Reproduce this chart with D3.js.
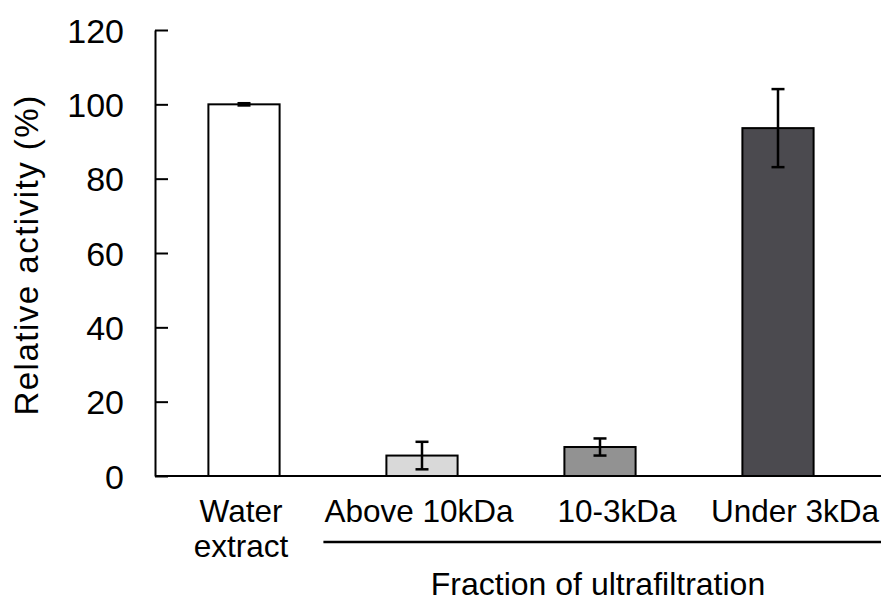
<!DOCTYPE html>
<html>
<head>
<meta charset="utf-8">
<script src="https://cdn.jsdelivr.net/npm/d3@7"></script>
<style>
  body { margin: 0; background: #fff; }
  text { font-family: "Liberation Sans", Arial, sans-serif; fill: #000; }
</style>
</head>
<body>
<script>
var categories = ['Water extract', 'Above 10kDa', '10-3kDa', 'Under 3kDa'];
var values = [100, 5.5, 7.8, 93.6];
var errors = [0.3, 3.7, 2.3, 10.5];
var barColors = ['#ffffff', '#d9d9d9', '#929292', '#4b4a4f'];
var yTicks = [0, 20, 40, 60, 80, 100, 120];
var groupTitle = 'Fraction of ultrafiltration';
var yTitle = 'Relative activity (%)';

var svgWidth = 881, svgHeight = 604;
var margin = {top: 30, right: 14, bottom: 128, left: 155};

var svg = d3.select("body").append("svg")
  .attr("width", svgWidth)
  .attr("height", svgHeight);

var x = d3.scaleBand()
  .domain(categories)
  .range([margin.left, margin.left + 712])
  .paddingInner(0.6)
  .paddingOuter(0.3);

var y = d3.scaleLinear()
  .domain([0, 120])
  .range([svgHeight - margin.bottom, margin.top]);

// bars
svg.append("g").selectAll("rect")
  .data(values)
  .enter().append("rect")
    .attr("x", function(d, i) { return x(categories[i]); })
    .attr("y", function(d) { return y(d); })
    .attr("width", x.bandwidth())
    .attr("height", function(d) { return y(0) - y(d); })
    .attr("fill", function(d, i) { return barColors[i]; })
    .attr("stroke", "#000")
    .attr("stroke-width", 2);

// error bars
var eb = svg.append("g").attr("stroke", "#000").attr("stroke-width", 2.5);
values.forEach(function(v, i) {
  var cx = x(categories[i]) + x.bandwidth() / 2;
  var lo = Math.max(0, v - errors[i]), hi = v + errors[i];
  eb.append("line").attr("x1", cx).attr("x2", cx).attr("y1", y(lo)).attr("y2", y(hi));
  eb.append("line").attr("x1", cx - 6.5).attr("x2", cx + 6.5).attr("y1", y(hi)).attr("y2", y(hi));
  eb.append("line").attr("x1", cx - 6.5).attr("x2", cx + 6.5).attr("y1", y(lo)).attr("y2", y(lo));
});

// y axis (ticks point inward)
var yAxis = svg.append("g")
  .attr("transform", "translate(" + margin.left + ",0)")
  .call(d3.axisRight(y).tickValues(yTicks).tickSize(13).tickSizeOuter(0).tickFormat(d3.format("d")));
yAxis.select(".domain").attr("stroke", "#000").attr("stroke-width", 2);
yAxis.selectAll(".tick line").attr("stroke", "#000").attr("stroke-width", 2);
yAxis.selectAll(".tick text")
  .attr("x", -31)
  .attr("text-anchor", "end")
  .attr("dy", "0.36em")
  .style("font-size", "34px")
  .style("font-family", "'Liberation Sans', Arial, sans-serif")
  .attr("fill", "#000");

// x axis line
svg.append("line")
  .attr("x1", margin.left).attr("x2", svgWidth)
  .attr("y1", y(0)).attr("y2", y(0))
  .attr("stroke", "#000").attr("stroke-width", 2);

// category labels
var labels = svg.append("g").style("font-size", "31.5px").attr("text-anchor", "middle");
categories.forEach(function(c, i) {
  var cx = x(c) + x.bandwidth() / 2 + (i >= 2 ? 17 : -3);
  var words = i === 0 ? c.split(" ") : [c];
  var t = labels.append("text").attr("x", cx).attr("y", 522);
  words.forEach(function(w, k) {
    t.append("tspan").attr("x", cx).attr("dy", k === 0 ? 0 : 35).text(w);
  });
});

// group bracket line under fractions
svg.append("line")
  .attr("x1", x(categories[1]) - 63).attr("x2", svgWidth)
  .attr("y1", 542).attr("y2", 542)
  .attr("stroke", "#000").attr("stroke-width", 2.5);

svg.append("text")
  .attr("x", 598).attr("y", 595)
  .attr("text-anchor", "middle")
  .style("font-size", "32px")
  .text(groupTitle);

svg.append("text")
  .attr("transform", "translate(38,255) rotate(-90)")
  .attr("text-anchor", "middle")
  .style("font-size", "33px")
  .style("letter-spacing", "1.5px")
  .text(yTitle);
</script>
</body>
</html>
